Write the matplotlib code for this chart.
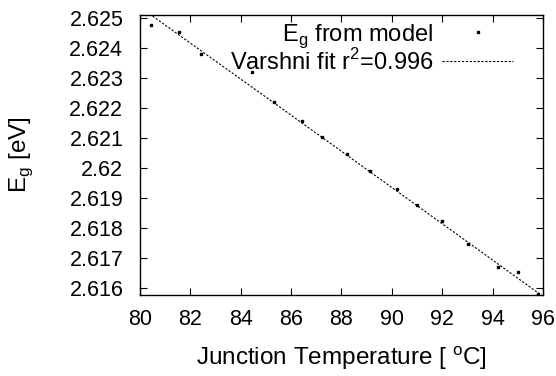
import matplotlib
matplotlib.use("Agg")
import matplotlib.pyplot as plt
import numpy as np

plt.rcParams["font.family"] = ["Liberation Sans", "DejaVu Sans"]
plt.rcParams["font.size"] = 15.5
plt.rcParams["mathtext.fontset"] = "custom"
plt.rcParams["mathtext.rm"] = "Liberation Sans"

# junction temperature [C] and band gap from model [eV]
temp_c = [80.44, 81.55, 82.42, 84.45, 85.32, 86.43, 87.23, 88.22,
          89.13, 90.20, 91.00, 91.99, 93.02, 94.21, 95.01, 95.80]
eg = [2.62477, 2.62453, 2.62380, 2.62320, 2.62220, 2.62157, 2.62103, 2.62047,
      2.61990, 2.61930, 2.61877, 2.61823, 2.61747, 2.61670, 2.61653, 2.61580]

# Varshni fit parameters: Eg = E0 - a T^2 / (T + b), T in K
E0 = 2.7701
a = 7.58e-4
b = 300.0

xticks = [80, 82, 84, 86, 88, 90, 92, 94, 96]
yticks = [2.616, 2.617, 2.618, 2.619, 2.62, 2.621, 2.622, 2.623, 2.624, 2.625]
yticklabels = ["2.616", "2.617", "2.618", "2.619", "2.62", "2.621", "2.622", "2.623", "2.624", "2.625"]

tfit = np.linspace(80, 96, 200)
tk = tfit + 273.15
efit = E0 - a * tk**2 / (tk + b)

fig = plt.figure(figsize=(5.56, 3.76), dpi=100)
ax = fig.add_axes([0.2518, 0.2154, 0.7248, 0.7446])

ax.plot(temp_c, eg, "s", color="black", markersize=1.8, linestyle="none",
        label="E$_\\mathregular{g}$ from model")
ax.plot(tfit, efit, color="black", linestyle=(0, (2, 1.5)), linewidth=0.8,
        label="Varshni fit r$^\\mathregular{2}$=0.996")

ax.set_xlim(80, 96)
ax.set_ylim(2.61578, 2.6251)
ax.set_xticks(xticks)
ax.set_yticks(yticks)
ax.set_yticklabels(yticklabels)
ax.tick_params(direction="in", top=True, right=True, length=5, width=0.8)
ax.tick_params(axis="x", pad=10)
ax.tick_params(axis="y", pad=12)
for s in ax.spines.values():
    s.set_linewidth(1.0)

ax.set_xlabel("Junction Temperature [ $^\\mathregular{o}$C]", fontsize=17.5)
ax.set_ylabel("E$_\\mathregular{g}$ [eV]", fontsize=17.5)
ax.xaxis.set_label_coords(0.5, -0.175)
ax.yaxis.set_label_coords(-0.26, 0.5)

ax.legend(loc="upper right", frameon=False, markerfirst=False, handlelength=3.0,
          handletextpad=0.38, labelspacing=-0.05, borderpad=0, borderaxespad=0,
          bbox_to_anchor=(0.9256, 0.975), fontsize=17)

fig.savefig("out.png", dpi=100)
